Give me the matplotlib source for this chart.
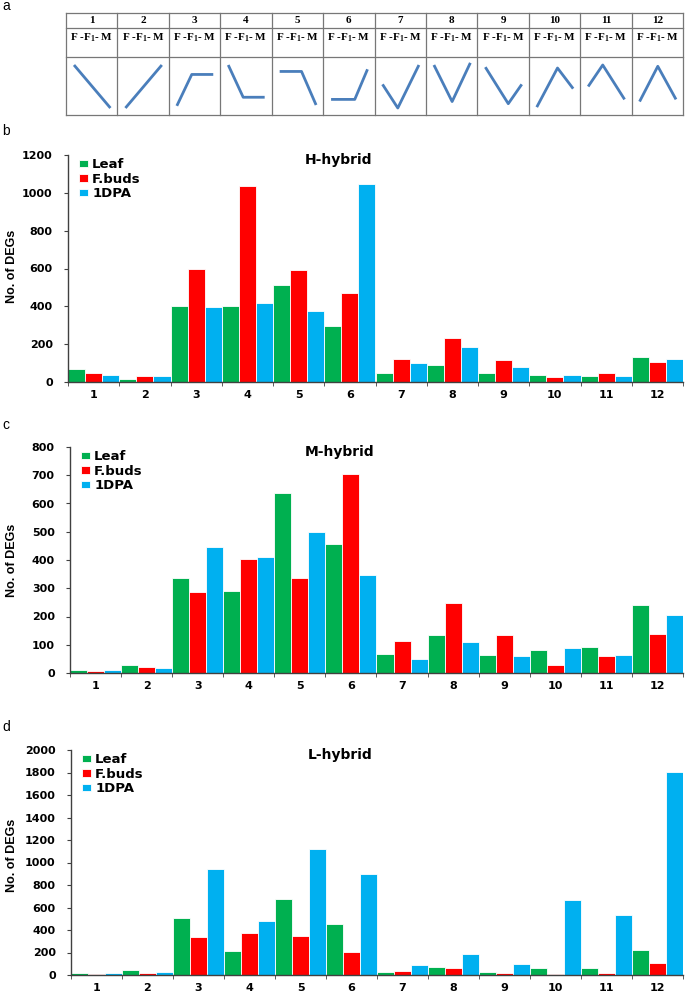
import numpy as np
import matplotlib.pyplot as plt

plt.rcParams['mathtext.default'] = 'regular'

# cluster numbers
clusters = list(range(1, 13))
series = ['Leaf', 'F.buds', '1DPA']
colors = ['#00B050', '#FF0000', '#00B0F0']

# expression pattern of each cluster (F, F1, M levels) and where the middle point sits
pattern_levels = [[1, 0.5, 0], [0, 0.5, 1], [0.05, 0.78, 0.78], [1, 0.25, 0.25],
                  [0.85, 0.85, 0.07], [0.2, 0.2, 0.9], [0.55, 0, 1], [1, 0.15, 1.05],
                  [0.95, 0.1, 0.55], [0.02, 0.93, 0.45], [0.5, 1, 0.2], [0.15, 0.97, 0.2]]
pattern_mid = [0.5, 0.5, 0.41, 0.41, 0.6, 0.65, 0.42, 0.5, 0.63, 0.57, 0.4, 0.5]

# H-hybrid
leaf_h = [68, 15, 402, 402, 511, 296, 45, 89, 45, 35, 31, 131]
fbuds_h = [49, 33, 600, 1034, 591, 472, 119, 233, 114, 28, 47, 108]
dpa_h = [38, 33, 397, 416, 373, 1045, 103, 185, 80, 37, 31, 124]
# M-hybrid
leaf_m = [11, 28, 335, 290, 638, 456, 69, 134, 64, 82, 92, 241]
fbuds_m = [8, 22, 287, 405, 338, 704, 114, 248, 134, 30, 60, 138]
dpa_m = [11, 18, 446, 411, 500, 347, 48, 108, 60, 89, 64, 207]
# L-hybrid
leaf_l = [20, 41, 508, 210, 679, 455, 30, 71, 30, 62, 62, 222]
fbuds_l = [12, 15, 340, 372, 349, 207, 38, 62, 21, 12, 21, 103]
dpa_l = [20, 27, 942, 484, 1123, 898, 86, 189, 95, 665, 529, 1808]

W, H = 685, 994
fig = plt.figure(figsize=(6.85, 9.94), dpi=100)


def px_axes(left, top, right, bottom):
    return fig.add_axes([left / W, 1 - bottom / H, (right - left) / W, (bottom - top) / H])


# ---- panel a : pattern table ----
ax = px_axes(66, 13, 683, 115)
ax.set_xlim(0, 12)
ax.set_ylim(102, 0)
ax.axis('off')
lc = '#777777'
for xv in range(13):
    ax.plot([xv, xv], [0, 102], color=lc, lw=0.9, clip_on=False)
for yv in [0, 15, 44, 102]:
    ax.plot([0, 12], [yv, yv], color=lc, lw=0.9, clip_on=False)
cw = 617 / 12.0
for i in range(12):
    ax.text(i + 0.5, 7.8, str(clusters[i]), ha='center', va='center',
            family='Liberation Serif', weight='bold', fontsize=8)
    ax.text(i + 0.5, 24.5, 'F -F$_1$- M', ha='center', va='center',
            family='Liberation Serif', weight='bold', fontsize=8)
    x0 = i + 8 / cw
    x1 = i + 1 - 7 / cw
    xs = [x0, x0 + pattern_mid[i] * (x1 - x0), x1]
    ys = [95 - 43 * v for v in pattern_levels[i]]
    ax.plot(xs, ys, color='#4A7EBB', lw=2.0, solid_capstyle='butt')


def bar_panel(ax, vals, ymax, step, title):
    x = np.arange(1, 13)
    for k in range(3):
        ax.bar(x + (k - 1) / 3.0, vals[k], width=1 / 3.0, color=colors[k],
               edgecolor='white', linewidth=0.6, label=series[k])
    ax.set_xlim(0.5, 12.5)
    ax.set_ylim(0, ymax)
    ax.set_yticks(range(0, ymax + 1, step))
    ax.set_xticks(x)
    ax.set_xticks(np.arange(0.5, 13, 1), minor=True)
    for s in ['top', 'right']:
        ax.spines[s].set_visible(False)
    for s in ['left', 'bottom']:
        ax.spines[s].set_color('#404040')
        ax.spines[s].set_linewidth(1.0)
    ax.tick_params(axis='x', which='major', length=0, pad=6)
    ax.tick_params(axis='x', which='minor', length=3, color='#404040')
    ax.tick_params(axis='y', length=3, pad=8, color='#404040')
    for lab in ax.get_xticklabels() + ax.get_yticklabels():
        lab.set_family('DejaVu Sans')
        lab.set_weight('bold')
        lab.set_fontsize(8)
    ax.text(0.44, 0.98, title, transform=ax.transAxes, ha='center', va='center',
            family='DejaVu Sans', weight='bold', fontsize=10)
    ax.legend(loc='upper left', bbox_to_anchor=(0.005, 1.02), frameon=False,
              prop=dict(family='DejaVu Sans', weight='bold', size=9.5),
              handlelength=0.7, handleheight=0.5, handletextpad=0.3,
              labelspacing=0.1, borderaxespad=0.2)


axb = px_axes(68, 155, 683, 382)
bar_panel(axb, [leaf_h, fbuds_h, dpa_h], 1200, 200, 'H-hybrid')
axc = px_axes(70, 447, 683, 673)
bar_panel(axc, [leaf_m, fbuds_m, dpa_m], 800, 100, 'M-hybrid')
axd = px_axes(71, 750, 683, 975)
bar_panel(axd, [leaf_l, fbuds_l, dpa_l], 2000, 200, 'L-hybrid')

for yc in [266, 560, 855]:
    fig.text(12 / W, 1 - yc / H, 'No. of DEGs', rotation=90, ha='center', va='center',
             family='Liberation Sans', weight='bold', fontsize=9)

for lab, yc in [('a', 6), ('b', 131), ('c', 425), ('d', 727)]:
    fig.text(6 / W, 1 - yc / H, lab, ha='center', va='center',
             family='Liberation Sans', fontsize=10)

fig.savefig('out.png', dpi=100)
